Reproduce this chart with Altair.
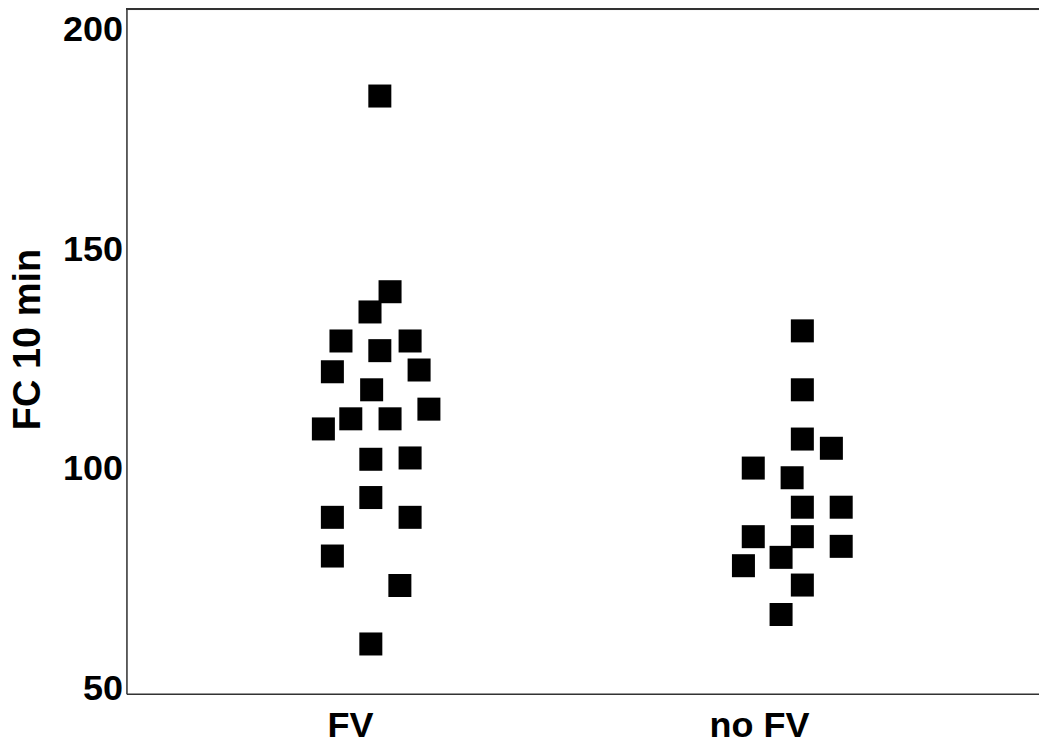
import altair as alt
import pandas as pd

# FV group: horizontal position (category 1 plus swarm offset) and FC 10 min values
fv_x = [1.073, 1.098, 1.049, 0.978, 1.073, 1.147, 0.957, 1.169, 1.053, 1.193, 1.002,
        1.098, 0.935, 1.051, 1.147, 1.051, 0.957, 1.147, 0.957, 1.122, 1.051]
fv_y = [184.8, 140.3, 135.7, 129.1, 126.9, 129.1, 122.1, 122.5, 118.0, 113.6, 111.4,
        111.4, 109.1, 102.2, 102.5, 93.5, 89.0, 89.0, 80.2, 73.5, 60.2]

# no FV group
nofv_x = [2.106, 2.106, 2.106, 2.177, 1.986, 2.081, 2.106, 2.201, 1.986, 2.106,
          2.201, 2.054, 1.962, 2.106, 2.054]
nofv_y = [131.4, 118.0, 106.8, 104.7, 100.2, 98.0, 91.3, 91.3, 84.6, 84.6,
          82.4, 79.9, 78.0, 73.6, 66.9]

categories = ["FV", "no FV"]
y_ticks = [50, 100, 150, 200]

df = pd.DataFrame({
    "x": fv_x + nofv_x,
    "y": fv_y + nofv_y,
    "group": [categories[0]] * len(fv_x) + [categories[1]] * len(nofv_x),
})

W, H = 913, 685
FONT = "Liberation Sans"
LINE = "#333333"

points = alt.Chart(df).mark_square(size=530, color="black", opacity=1, filled=True).encode(
    x=alt.X("x:Q",
            scale=alt.Scale(domain=[0.4535, 2.6846], nice=False, zero=False),
            axis=alt.Axis(values=[1, 2],
                          labelExpr="datum.value == 1 ? 'FV' : 'no FV'",
                          title=None, grid=False, ticks=False, tickSize=0,
                          labelFont=FONT, labelFontSize=36, labelFontWeight="bold",
                          labelColor="black", labelBaseline="middle", labelPadding=32,
                          labelFlush=False, domainColor=LINE, domainWidth=1.5)),
    y=alt.Y("y:Q",
            scale=alt.Scale(domain=[48.86, 204.55], nice=False, zero=False),
            axis=alt.Axis(values=y_ticks, title="FC 10 min", grid=False, ticks=False,
                          tickSize=0, labelFont=FONT, labelFontSize=36,
                          labelFontWeight="bold", labelColor="black",
                          labelBaseline="middle", labelPadding=4, labelFlush=False,
                          titleFont=FONT, titleFontSize=38, titleFontWeight="bold",
                          titleColor="black", titleAngle=270, titleX=-98, titleY=330,
                          titleAlign="center", titleBaseline="middle",
                          domainColor=LINE, domainWidth=1.5)),
)

top_line = alt.Chart(df).mark_rule(color=LINE, strokeWidth=1.5).encode(
    x=alt.value(0), x2=alt.value(W), y=alt.value(0)
)

chart = alt.layer(points, top_line).properties(
    width=W, height=H,
    padding={"left": 126.5, "top": 9, "right": 0, "bottom": 59},
    autosize=alt.AutoSizeParams(type="none"),
).configure_view(stroke=None).configure(background="white")

chart.save("out.html", embed_options={"renderer": "svg", "actions": False})
